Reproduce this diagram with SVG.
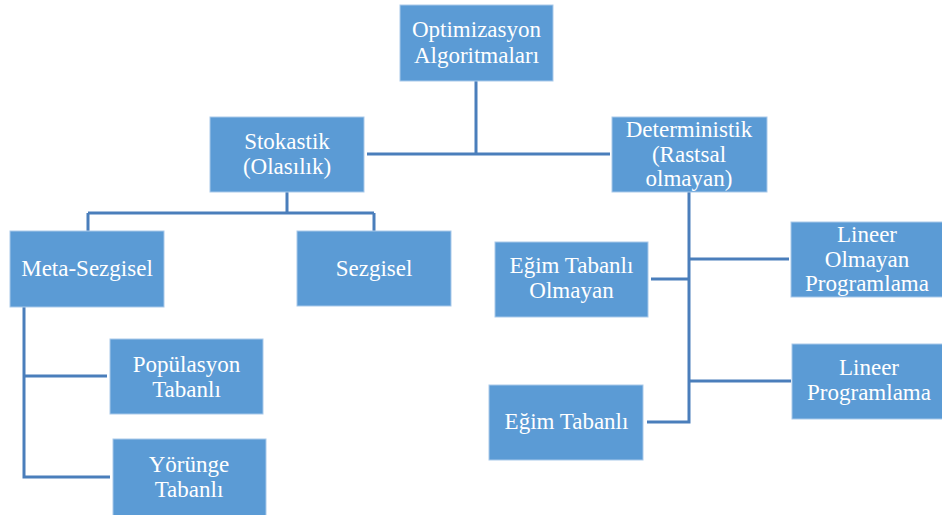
<svg xmlns="http://www.w3.org/2000/svg" width="942" height="515" viewBox="0 0 942 515">
<style>
.box{fill:#5B9BD5;stroke:#A9C9EA;stroke-width:1}
.lbl{font-family:"Liberation Serif","Times New Roman",serif;font-size:23px;fill:#FFFFFF;text-anchor:middle}
.conn{fill:none;stroke:#4A7EBB;stroke-width:3}
</style>
<rect width="942" height="515" fill="#FFFFFF"/>
<g id="connectors">
<path class="conn" d="M476,81 V154 M367,154 H610"/>
<path class="conn" d="M287,192 V213 M88,213 H374 M88,213 V231 M374,213 V231"/>
<path class="conn" d="M24,307 V477 H110 M24,376 H107"/>
<path class="conn" d="M689,192 V422 H647 M651,279 H689 M689,259 H789 M689,381 H791"/>
</g>
<g id="n-opt"><rect class="box" x="400" y="5" width="153" height="76"/><text class="lbl" x="476.5" y="37">Optimizasyon</text><text class="lbl" x="476.5" y="63">Algoritmaları</text></g>
<g id="n-stok"><rect class="box" x="210" y="117" width="154" height="75"/><text class="lbl" x="287" y="149">Stokastik</text><text class="lbl" x="287" y="174">(Olasılık)</text></g>
<g id="n-det"><rect class="box" x="612" y="117" width="155" height="75"/><text class="lbl" x="689" y="137">Deterministik</text><text class="lbl" x="689" y="162">(Rastsal</text><text class="lbl" x="689" y="186">olmayan)</text></g>
<g id="n-meta"><rect class="box" x="10" y="231" width="154" height="76"/><text class="lbl" x="87" y="276">Meta-Sezgisel</text></g>
<g id="n-sez"><rect class="box" x="297" y="231" width="154" height="75"/><text class="lbl" x="374" y="276">Sezgisel</text></g>
<g id="n-pop"><rect class="box" x="110" y="339" width="153" height="75"/><text class="lbl" x="186.5" y="372">Popülasyon</text><text class="lbl" x="186.5" y="397">Tabanlı</text></g>
<g id="n-yor"><rect class="box" x="113" y="439" width="153" height="80"/><text class="lbl" x="189" y="472">Yörünge</text><text class="lbl" x="189" y="497">Tabanlı</text></g>
<g id="n-egimol"><rect class="box" x="495" y="242" width="153" height="75"/><text class="lbl" x="571.5" y="273">Eğim Tabanlı</text><text class="lbl" x="571.5" y="298">Olmayan</text></g>
<g id="n-lnp"><rect class="box" x="791" y="222" width="155" height="75"/><text class="lbl" x="867" y="242">Lineer</text><text class="lbl" x="867" y="267">Olmayan</text><text class="lbl" x="867" y="291">Programlama</text></g>
<g id="n-lp"><rect class="box" x="792" y="344" width="154" height="75"/><text class="lbl" x="869" y="375">Lineer</text><text class="lbl" x="869" y="400">Programlama</text></g>
<g id="n-egim"><rect class="box" x="489" y="385" width="154" height="75"/><text class="lbl" x="566.5" y="429">Eğim Tabanlı</text></g>
</svg>
